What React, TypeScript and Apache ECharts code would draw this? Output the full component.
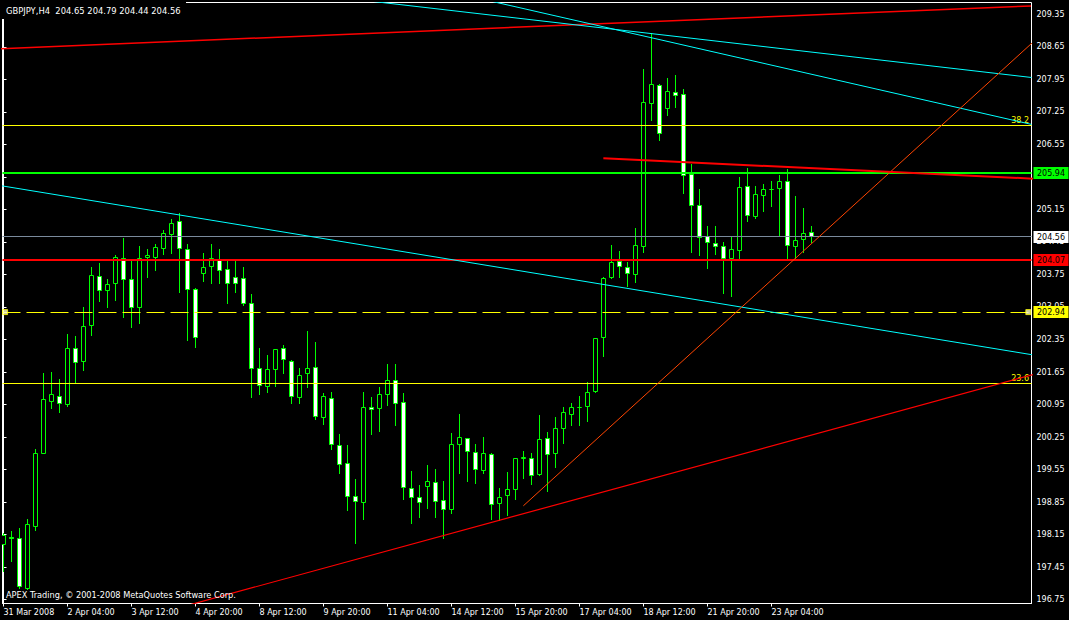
import React, { useEffect, useRef } from 'react';
import * as echarts from 'echarts';

const FONT = 'DejaVu Sans';

// ---- candle data (H4 bars, index 0 .. 101) ----
const opens = [
  197.94, 198.08, 198.07, 196.99, 198.32, 199.90, 201.01, 201.13, 200.96, 202.16,
  201.87, 202.66, 203.71, 203.40, 203.56, 204.10, 203.65, 203.04, 204.11, 204.12,
  204.31, 204.61, 204.89, 204.29, 203.42, 203.78, 203.93, 204.06, 203.86, 203.69,
  203.67, 203.13, 201.73, 201.34, 201.71, 202.15, 201.87, 201.11, 201.61, 201.74,
  200.68, 201.08, 200.07, 199.69, 198.98, 198.84, 200.89, 200.86, 201.17, 201.47,
  201.00, 199.14, 198.95, 199.18, 199.28, 198.89, 198.70, 200.09, 200.22, 199.92,
  199.53, 199.88, 198.82, 198.99, 199.13, 199.79, 199.79, 199.44, 200.22, 199.90,
  200.44, 200.74, 200.88, 200.91, 201.23, 202.39, 203.68, 204.03, 203.90, 203.75,
  204.35, 207.43, 207.82, 207.32, 207.67, 207.63, 205.91, 205.24, 204.56, 204.42,
  204.35, 204.09, 204.27, 205.64, 204.99, 205.45, 205.58, 205.60, 205.76, 204.35,
  204.51, 204.65,
];
const highs = [
  198.19, 198.23, 198.29, 198.48, 199.99, 201.64, 201.65, 201.50, 202.47, 202.43,
  203.06, 203.92, 204.00, 203.65, 204.17, 204.53, 204.04, 204.36, 204.30, 204.41,
  204.71, 204.94, 205.07, 204.41, 203.46, 204.21, 204.41, 204.29, 204.04, 204.04,
  203.92, 203.32, 202.17, 202.02, 202.15, 202.23, 201.91, 201.73, 202.53, 202.29,
  201.19, 201.21, 200.31, 200.09, 199.34, 201.21, 201.11, 201.32, 201.82, 201.82,
  201.20, 199.52, 199.22, 199.65, 199.56, 199.31, 200.34, 200.75, 200.24, 200.10,
  200.25, 199.90, 199.15, 199.49, 199.81, 199.95, 199.90, 200.73, 200.36, 200.68,
  200.89, 200.98, 201.13, 201.44, 202.39, 203.70, 204.38, 204.26, 204.01, 204.75,
  208.17, 208.94, 207.86, 207.97, 208.04, 207.74, 206.13, 205.59, 204.79, 204.79,
  204.45, 204.58, 205.84, 206.04, 205.65, 205.70, 205.76, 205.90, 206.01, 205.44,
  205.18, 204.79,
];
const lows = [
  197.37, 197.59, 197.01, 196.99, 198.25, 199.90, 200.88, 200.80, 200.91, 201.44,
  201.69, 202.45, 203.17, 203.04, 203.19, 202.84, 202.61, 202.71, 203.70, 203.85,
  204.18, 204.21, 203.38, 202.35, 202.18, 203.60, 203.57, 203.57, 203.14, 203.38,
  203.09, 201.11, 201.17, 201.21, 201.35, 201.62, 200.98, 200.98, 201.32, 200.63,
  200.53, 199.99, 199.47, 198.67, 197.97, 198.49, 200.32, 200.39, 200.95, 200.52,
  198.92, 198.39, 198.52, 198.73, 198.52, 198.07, 198.62, 199.48, 199.31, 199.27,
  199.48, 198.49, 198.47, 198.57, 198.92, 199.36, 199.23, 199.43, 199.10, 199.61,
  200.13, 200.50, 200.51, 200.60, 201.21, 202.00, 203.68, 203.70, 203.51, 203.58,
  204.24, 207.08, 206.64, 207.18, 207.36, 205.51, 204.24, 204.17, 203.90, 204.19,
  203.36, 203.29, 204.11, 204.90, 204.97, 205.12, 205.22, 204.58, 204.08, 204.08,
  204.24, 204.44,
];
const closes = [
  198.13, 198.06, 197.03, 198.36, 199.90, 201.05, 201.16, 200.98, 202.16, 201.86,
  202.64, 203.73, 203.41, 203.54, 204.12, 203.65, 203.04, 204.10, 204.15, 204.33,
  204.64, 204.85, 204.31, 203.43, 202.40, 203.90, 204.09, 203.84, 203.56, 203.56,
  203.13, 201.73, 201.35, 201.71, 202.14, 201.91, 201.13, 201.57, 201.73, 200.70,
  201.12, 200.08, 199.66, 198.98, 198.86, 200.89, 200.85, 201.17, 201.47, 200.98,
  199.17, 198.95, 198.85, 199.30, 198.87, 198.70, 200.08, 200.25, 199.94, 199.56,
  199.89, 198.80, 198.95, 199.13, 199.79, 199.80, 199.43, 200.20, 199.88, 200.44,
  200.78, 200.89, 200.89, 201.21, 202.38, 203.67, 204.01, 203.92, 203.77, 204.38,
  207.46, 207.84, 206.79, 207.69, 207.61, 205.88, 205.24, 204.55, 204.44, 204.36,
  204.09, 204.29, 205.63, 205.02, 205.48, 205.58, 205.57, 205.76, 204.37, 204.49,
  204.64, 204.56,
];

// ---- axis ticks ----
const xTickIdx = [0, 8, 16, 24, 32, 40, 48, 56, 64, 72, 80, 88, 96];
const xTickLabels = [
  '31 Mar 2008', '2 Apr 04:00', '3 Apr 12:00', '4 Apr 20:00', '8 Apr 12:00',
  '9 Apr 20:00', '11 Apr 04:00', '14 Apr 12:00', '15 Apr 20:00', '17 Apr 04:00',
  '18 Apr 12:00', '21 Apr 20:00', '23 Apr 04:00',
];
const yTicks = [
  196.75, 197.45, 198.15, 198.85, 199.55, 200.25, 200.95, 201.65, 202.35, 203.05,
  203.75, 204.45, 205.15, 205.85, 206.55, 207.25, 207.95, 208.65, 209.35,
];

// ---- horizontal levels ----
const fibLevels = [206.95, 201.41];
const fibNames = ['38.2', '23.6'];
const greenLevel = 205.94;
const redLevel = 204.07;
const bidLevel = 204.56;
const dashedLevel = 202.94;
const dashedMarkers = [0.2, 128.1];

// ---- trend lines [barIndex, price] ----
const redTopLine = [[-0.44, 208.61], [128.44, 209.53]];
const cyanLineA = [[46, 209.63], [128.5, 207.99]];
const cyanLineB = [[61, 209.63], [128.5, 206.98]];
const cyanLineC = [[-1, 205.68], [129, 202.01]];
const orangeLine = [[64.98, 198.77], [129, 208.8]];
const redBottomLine = [[22, 196.58], [129, 201.61]];
const redMidLine = [[74.98, 206.25], [129, 205.81]];

// ---- price tags on the axis ----
const tagPrices = [205.94, 204.56, 204.07, 202.94];
const tagFills = ['#00ff00', '#ffffff', '#ff0000', '#ffff00'];

const title = 'GBPJPY,H4  204.65 204.79 204.44 204.56';
const copyright = 'APEX Trading, \u00a9 2001-2008 MetaQuotes Software Corp.';

const X_MIN = -0.125;
const X_MAX = 128.5;
const Y_MIN = 196.668;
const Y_MAX = 209.604;

function tLine(name: string, pts: number[][], color: string, width: number) {
  return {
    name,
    type: 'line',
    data: pts,
    symbol: 'none',
    silent: true,
    lineStyle: { color, width },
  };
}

export default function App() {
  const ref = useRef<HTMLDivElement>(null);

  useEffect(() => {
    document.body.style.margin = '0';
    document.body.style.background = '#000';
    const chart = echarts.init(ref.current!, null, { renderer: 'svg' });

    const candleData = opens.map((o, i) => [i, o, highs[i], lows[i], closes[i]]);

    const levelPrices = [fibLevels[0], fibLevels[1], bidLevel, greenLevel, redLevel];
    const levelColors = ['#ffff00', '#ffff00', '#7a8a9c', '#00ff00', '#ff0000'];
    const levelWidths = [1, 1, 1, 2, 2];

    const option: any = {
      animation: false,
      backgroundColor: '#000000',
      textStyle: { fontFamily: FONT, fontSize: 8 },
      grid: {
        left: 2.5,
        top: 2.5,
        right: 37.5,
        bottom: 16.5,
        show: true,
        borderColor: '#ffffff',
        borderWidth: 1,
        backgroundColor: '#000000',
      },
      xAxis: {
        type: 'value',
        min: X_MIN,
        max: X_MAX,
        splitLine: { show: false },
        axisLine: { show: true, lineStyle: { color: '#ffffff', width: 1 } },
        axisTick: {
          show: true,
          customValues: xTickIdx,
          length: 3,
          lineStyle: { color: '#ffffff', width: 1 },
        },
        axisLabel: {
          show: true,
          customValues: xTickIdx,
          formatter: (v: number) => {
            const i = xTickIdx.indexOf(Math.round(v));
            return i >= 0 ? xTickLabels[i] : '';
          },
          color: '#ffffff',
          fontFamily: FONT,
          fontSize: 8,
          align: 'left',
          margin: 5,
          hideOverlap: false,
        },
      },
      yAxis: {
        type: 'value',
        position: 'right',
        min: Y_MIN,
        max: Y_MAX,
        scale: true,
        splitLine: { show: false },
        axisLine: { show: true, lineStyle: { color: '#ffffff', width: 1 } },
        axisTick: {
          show: true,
          customValues: yTicks,
          length: 3,
          lineStyle: { color: '#ffffff', width: 1 },
        },
        axisLabel: {
          show: true,
          customValues: yTicks,
          formatter: (v: number) => v.toFixed(2),
          color: '#ffffff',
          fontFamily: FONT,
          fontSize: 8,
          margin: 5,
        },
      },
      graphic: [
        {
          type: 'rect',
          z: 100,
          shape: { x: 0, y: 0, width: 186, height: 19 },
          style: { fill: '#000000' },
        },
        {
          type: 'text',
          z: 101,
          x: 6,
          y: 11,
          style: {
            text: title,
            fill: '#ffffff',
            font: `8.4px "${FONT}"`,
            textVerticalAlign: 'middle',
          },
        },
        {
          type: 'text',
          z: 101,
          x: 6,
          y: 594.5,
          style: {
            text: copyright,
            fill: '#ffffff',
            font: `8.2px "${FONT}"`,
            textVerticalAlign: 'middle',
          },
        },
      ],
      series: [
        {
          name: 'candles',
          type: 'custom',
          clip: true,
          silent: true,
          data: candleData,
          encode: { x: 0, y: [1, 2, 3, 4] },
          renderItem: (params: any, api: any) => {
            const k = api.value(0);
            const o = api.value(1);
            const h = api.value(2);
            const l = api.value(3);
            const c = api.value(4);
            const po = api.coord([k, o]);
            const yc = api.coord([k, c])[1];
            const yh = api.coord([k, h])[1];
            const yl = api.coord([k, l])[1];
            const cx = Math.round(po[0] - 0.5) + 0.5;
            const top = Math.round(Math.min(po[1], yc) - 0.5) + 0.5;
            const bot = Math.round(Math.max(po[1], yc) - 0.5) + 0.5;
            return {
              type: 'group',
              children: [
                {
                  type: 'line',
                  shape: { x1: cx, y1: Math.round(yh), x2: cx, y2: Math.round(yl) + 1 },
                  style: { stroke: '#00ff00', lineWidth: 1 },
                },
                {
                  type: 'rect',
                  shape: { x: cx - 2, y: top, width: 4, height: bot - top },
                  style: {
                    fill: c < o ? '#ffffff' : '#000000',
                    stroke: '#00ff00',
                    lineWidth: 1,
                  },
                },
              ],
            };
          },
        },
        {
          name: 'levels',
          type: 'custom',
          clip: true,
          silent: true,
          data: levelPrices.map((p) => [0, p]),
          encode: { x: 0, y: 1 },
          renderItem: (params: any, api: any) => {
            const cs = params.coordSys;
            const i = params.dataIndex;
            const y = api.coord([0, levelPrices[i]])[1];
            const w = levelWidths[i];
            const y0 = Math.round(y - w / 2);
            return {
              type: 'rect',
              shape: { x: cs.x, y: y0, width: cs.width, height: w },
              style: { fill: levelColors[i], stroke: null },
            };
          },
        },
        {
          name: 'dashed',
          type: 'custom',
          clip: true,
          silent: true,
          data: [[0, dashedLevel]],
          encode: { x: 0, y: 1 },
          renderItem: (params: any, api: any) => {
            const cs = params.coordSys;
            const y = api.coord([0, dashedLevel])[1];
            const yy = Math.round(y - 0.5) + 0.5;
            return {
              type: 'line',
              shape: { x1: cs.x, y1: yy, x2: cs.x + cs.width, y2: yy },
              style: { stroke: '#ffff00', lineWidth: 1, lineDash: [18, 6] },
            };
          },
        },
        tLine('redTop', redTopLine, '#ff0000', 1.5),
        tLine('cyanA', cyanLineA, '#00ffff', 1),
        tLine('cyanB', cyanLineB, '#00ffff', 1),
        tLine('cyanC', cyanLineC, '#00ffff', 1),
        tLine('orange', orangeLine, '#ff4500', 1),
        tLine('redBottom', redBottomLine, '#ff0000', 1.2),
        tLine('redMid', redMidLine, '#ff0000', 2),
        {
          name: 'markers',
          type: 'scatter',
          silent: true,
          symbol: 'rect',
          symbolSize: 5,
          data: dashedMarkers.map((k) => [k, dashedLevel]),
          itemStyle: { color: '#ffffcc', borderColor: '#ffff00', borderWidth: 1 },
        },
        {
          name: 'fibLabels',
          type: 'custom',
          clip: false,
          silent: true,
          data: fibLevels.map((p) => [X_MAX, p]),
          renderItem: (params: any, api: any) => {
            const i = params.dataIndex;
            const pt = api.coord([X_MAX, fibLevels[i]]);
            return {
              type: 'text',
              x: pt[0] - 2.5,
              y: pt[1] - 1,
              style: {
                text: fibNames[i],
                fill: '#ffff00',
                font: `8px "${FONT}"`,
                textAlign: 'right',
                textVerticalAlign: 'bottom',
              },
            };
          },
        },
        {
          name: 'tags',
          type: 'custom',
          clip: false,
          silent: true,
          z: 10,
          data: tagPrices.map((p) => [X_MAX, p]),
          renderItem: (params: any, api: any) => {
            const i = params.dataIndex;
            const pt = api.coord([X_MAX, tagPrices[i]]);
            const yMid = Math.round(pt[1]);
            return {
              type: 'group',
              children: [
                {
                  type: 'rect',
                  shape: { x: pt[0] + 2, y: yMid - 6, width: 35, height: 12 },
                  style: { fill: tagFills[i] },
                },
                {
                  type: 'text',
                  x: pt[0] + 5.5,
                  y: yMid + 0.5,
                  style: {
                    text: tagPrices[i].toFixed(2),
                    fill: '#000000',
                    font: `8px "${FONT}"`,
                    textVerticalAlign: 'middle',
                  },
                },
              ],
            };
          },
        },
      ],
    };

    chart.setOption(option);
    return () => chart.dispose();
  }, []);

  return <div ref={ref} style={{ width: 1069, height: 620, background: '#000' }} />;
}
